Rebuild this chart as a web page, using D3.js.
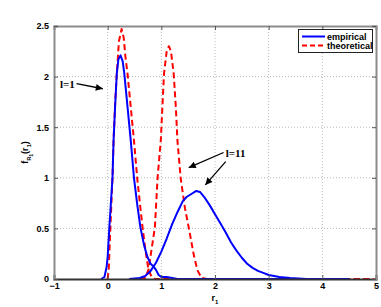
<!DOCTYPE html>
<html><head><meta charset="utf-8">
<script src="https://cdn.jsdelivr.net/npm/d3@7"></script>
<style>body{margin:0;background:#fff;}svg{display:block;}</style>
</head><body>
<script>
// ---- data ----
const xTicks = [-1, 0, 1, 2, 3, 4, 5];
const yTicks = [0, 0.5, 1, 1.5, 2, 2.5];
const yTickLabels = ["0", "0.5", "1", "1.5", "2", "2.5"];
const seriesNames = ["empirical", "theoretical"];

// empirical, l=1
const empL1 = [[-0.12,0],[-0.06,0.02],[-0.02,0.12],[0.0,0.22],[0.03,0.5],[0.06,0.75],[0.09,1.0],[0.11,1.37],[0.14,1.72],[0.17,2.03],[0.2,2.17],[0.24,2.21],[0.28,2.15],[0.31,2.03],[0.37,1.7],[0.43,1.37],[0.49,1.0],[0.55,0.74],[0.61,0.51],[0.68,0.33],[0.74,0.22],[0.8,0.15],[0.86,0.12],[0.9,0.09],[0.95,0.04],[1.0,0.02],[1.1,0.02],[1.2,0.01],[1.3,0.0],[4.5,0]];
// empirical, l=11
const empL11 = [[0.4,0],[0.6,0.01],[0.7,0.03],[0.8,0.08],[0.9,0.16],[1.0,0.27],[1.1,0.4],[1.2,0.54],[1.3,0.66],[1.4,0.77],[1.47,0.81],[1.56,0.84],[1.65,0.87],[1.72,0.86],[1.8,0.81],[1.9,0.73],[2.0,0.64],[2.1,0.55],[2.2,0.46],[2.3,0.36],[2.4,0.28],[2.5,0.21],[2.6,0.15],[2.7,0.11],[2.8,0.08],[2.9,0.06],[3.0,0.04],[3.2,0.02],[3.4,0.01],[3.7,0],[4.5,0]];
// theoretical, l=1
const theoL1 = [[0.0,0],[0.02,0.1],[0.05,0.5],[0.07,0.75],[0.09,1.0],[0.11,1.37],[0.14,1.75],[0.17,2.03],[0.21,2.35],[0.26,2.47],[0.3,2.38],[0.33,2.2],[0.37,2.03],[0.43,1.7],[0.49,1.37],[0.55,1.0],[0.6,0.75],[0.65,0.51],[0.7,0.3],[0.76,0.09],[0.82,0.02],[0.88,0],[5,0]];
// theoretical, l=11
const theoL11 = [[0.6,0],[0.7,0.01],[0.76,0.09],[0.82,0.3],[0.88,0.51],[0.93,1.0],[0.99,1.37],[1.02,1.7],[1.05,2.03],[1.1,2.25],[1.14,2.3],[1.18,2.25],[1.23,2.03],[1.27,1.7],[1.3,1.37],[1.36,1.0],[1.44,0.7],[1.51,0.51],[1.6,0.25],[1.67,0.09],[1.75,0.01],[1.85,0],[5,0]];

// annotations (data units): label position and arrows [x0,y0,x1,y1]
const labels = [{text:"l=1", x:-0.89, y:1.89}, {text:"l=11", x:2.2, y:1.21}];
const arrows = [[-0.58,1.93,-0.09,1.88],[2.16,1.25,1.51,1.10],[2.2,1.16,1.82,0.93]];

// ---- layout ----
const W = 381, H = 307;
const m = {left:54, right:5, top:26, bottom:28};
const svg = d3.select("body").append("svg").attr("width", W).attr("height", H);
const x = d3.scaleLinear().domain([-1, 5]).range([m.left, W - m.right]);
const y = d3.scaleLinear().domain([0, 2.5]).range([H - m.bottom, m.top]);
const x0 = x.range()[0], x1 = x.range()[1], y0 = y.range()[0], y1 = y.range()[1];

// grid
const g = svg.append("g");
g.selectAll(".gx").data(xTicks.slice(1, -1)).enter().append("line")
  .attr("x1", d => x(d)).attr("x2", d => x(d)).attr("y1", y0).attr("y2", y1)
  .attr("stroke", "#b8b8b8").attr("stroke-width", 1).attr("stroke-dasharray", "1,2");
g.selectAll(".gy").data(yTicks.slice(1, -1)).enter().append("line")
  .attr("y1", d => y(d)).attr("y2", d => y(d)).attr("x1", x0).attr("x2", x1)
  .attr("stroke", "#b8b8b8").attr("stroke-width", 1).attr("stroke-dasharray", "1,2");

// curves
const line = d3.line().x(d => x(d[0])).y(d => y(d[1]));
const curves = [
  {d: theoL1, c: "#ff0000", dash: "6,3.5"},
  {d: theoL11, c: "#ff0000", dash: "6,3.5"},
  {d: empL1, c: "#0000ff", dash: null},
  {d: empL11, c: "#0000ff", dash: null}
];
curves.forEach(s => {
  svg.append("path").attr("d", line(s.d)).attr("fill", "none")
    .attr("stroke", s.c).attr("stroke-width", 2)
    .attr("stroke-dasharray", s.dash).attr("stroke-linejoin", "round");
});

// axes (box)
const axG = svg.append("g");
const xAxB = d3.axisBottom(x).tickValues(xTicks).tickSize(-4).tickFormat(d3.format("d"));
const xAxT = d3.axisTop(x).tickValues(xTicks).tickSize(-4).tickFormat("");
const yAxL = d3.axisLeft(y).tickValues(yTicks).tickSize(-4).tickFormat((d, i) => yTickLabels[i]);
const yAxR = d3.axisRight(y).tickValues(yTicks).tickSize(-4).tickFormat("");
const gb = axG.append("g").attr("transform", `translate(0,${y0})`).call(xAxB);
const gt = axG.append("g").attr("transform", `translate(0,${y1})`).call(xAxT);
const gl = axG.append("g").attr("transform", `translate(${x0},0)`).call(yAxL);
const gr = axG.append("g").attr("transform", `translate(${x1},0)`).call(yAxR);
[gb, gt, gl, gr].forEach(a => {
  a.select(".domain").attr("stroke", "#8c8c8c").attr("stroke-width", 2);
  a.selectAll(".tick line").attr("stroke", "#555");
  a.selectAll("text").attr("fill", "#000").style("font-family", "Liberation Sans, Arial, sans-serif")
    .style("font-weight", "bold").style("font-size", "9px");
});
gb.select(".domain").attr("stroke", "#333");
gb.selectAll("text").attr("dy", "0.71em").attr("y", 4);
gl.selectAll("text").attr("x", -5);

// axis labels
svg.append("text").attr("x", x(2)).attr("y", 301).attr("text-anchor", "middle")
  .style("font-family", "Liberation Sans, Arial, sans-serif").style("font-weight", "bold").style("font-size", "9px")
  .html('r<tspan dy="3" font-size="6">1</tspan>');
const yl = svg.append("text").attr("transform", `translate(28,${(y0 + y1) / 2}) rotate(-90)`)
  .attr("text-anchor", "middle")
  .style("font-family", "Liberation Sans, Arial, sans-serif").style("font-weight", "bold").style("font-size", "9px");
yl.append("tspan").text("f");
yl.append("tspan").attr("dy", 3).attr("font-size", "6").text("R");
yl.append("tspan").attr("dy", 2).attr("font-size", "4.5").text("1");
yl.append("tspan").attr("dy", -5).text("(r");
yl.append("tspan").attr("dy", 3).attr("font-size", "6").text("1");
yl.append("tspan").attr("dy", -3).text(")");

// annotations
svg.append("defs").append("marker").attr("id", "ah").attr("viewBox", "0 0 10 10")
  .attr("refX", 10).attr("refY", 5).attr("markerWidth", 9).attr("markerHeight", 7)
  .attr("markerUnits", "userSpaceOnUse").attr("orient", "auto")
  .append("path").attr("d", "M0,0 L10,5 L0,10 Z").attr("fill", "#000");
arrows.forEach(a => {
  svg.append("line").attr("x1", x(a[0])).attr("y1", y(a[1])).attr("x2", x(a[2])).attr("y2", y(a[3]))
    .attr("stroke", "#000").attr("stroke-width", 1.3).attr("marker-end", "url(#ah)");
});
labels.forEach(l => {
  svg.append("text").attr("x", x(l.x)).attr("y", y(l.y)).text(l.text)
    .style("font-family", "Liberation Serif, Times New Roman, serif").style("font-weight", "bold").style("font-size", "11px");
});

// legend
const lg = svg.append("g");
lg.append("rect").attr("x", 298.5).attr("y", 29.5).attr("width", 74).attr("height", 23)
  .attr("fill", "#fff").attr("stroke", "#222").attr("stroke-width", 1);
const legendStyles = [{c: "#0000ff", dash: null}, {c: "#ff0000", dash: "5,3"}];
seriesNames.forEach((n, i) => {
  const yy = 36.5 + i * 9;
  lg.append("line").attr("x1", 302).attr("x2", 325).attr("y1", yy).attr("y2", yy)
    .attr("stroke", legendStyles[i].c).attr("stroke-width", 2).attr("stroke-dasharray", legendStyles[i].dash);
  lg.append("text").attr("x", 327).attr("y", yy + 3.2).text(n)
    .style("font-family", "Liberation Sans, Arial, sans-serif").style("font-weight", "bold").style("font-size", "9px");
});
</script>
</body></html>
